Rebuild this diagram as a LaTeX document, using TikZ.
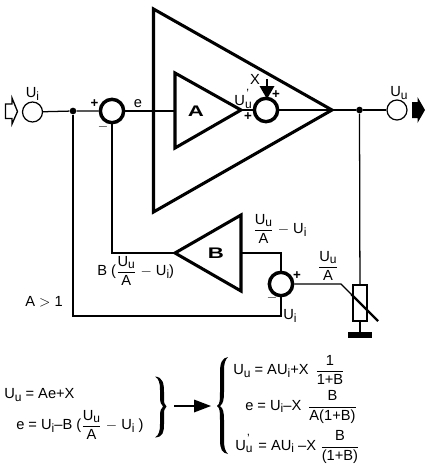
\documentclass[tikz,border=0pt]{standalone}
\usepackage{fontspec}
\setmainfont{Liberation Sans}
\usetikzlibrary{calc}
\newcommand{\Ss}[2]{#1\raisebox{-0.3ex}{\fontsize{9}{9}\selectfont #2}}
\newcommand{\Ui}{\Ss{U}{i}}
\newcommand{\Uu}{\Ss{U}{u}}
\newcommand{\Up}{U\rlap{\raisebox{-0.3ex}{\fontsize{9}{9}\selectfont u}}\raisebox{1.05ex}{\fontsize{9}{9}\selectfont\kern1pt '}\kern3.4pt}
\newcommand{\Frc}[2]{$\displaystyle\frac{\mbox{#1}}{\mbox{#2}}$}
\tikzset{
  x=0.75pt,y=-0.75pt,
  wire/.style={line width=0.95pt,line join=miter},
  heavy/.style={line width=2.3pt,line join=miter,miter limit=6},
  sumc/.style={circle,draw,line width=2.6pt,minimum size=17.5pt,inner sep=0pt,fill=white},
  port/.style={circle,draw,line width=0.9pt,minimum size=15pt,inner sep=0pt,fill=white},
  junc/.style={circle,fill,minimum size=5pt,inner sep=0pt},
  lab/.style={inner sep=0pt,font=\fontsize{11}{12}\selectfont},
  small/.style={inner sep=0pt,font=\fontsize{10}{11}\selectfont\bfseries},
  tri/.style={inner sep=0pt,font=\fontsize{11.5}{12}\selectfont\bfseries,xscale=1.45,transform shape},
}
\begin{document}
\begin{tikzpicture}
\useasboundingbox (0,0) rectangle (431,465);
% coordinates
\coordinate (bigT) at (153.5,9);
\coordinate (bigB) at (153.5,212);
\coordinate (bigA) at (332,110);
\coordinate (aT) at (175,73);
\coordinate (aB) at (175,148);
\coordinate (aA) at (241,110);
\coordinate (bT) at (241,215);
\coordinate (bB) at (241,291);
\coordinate (bA) at (175,253);
\coordinate (bOut) at (241,253);
\coordinate (bCorner) at (281,253);
\coordinate (fbL) at (112,253);
\coordinate (inCorner) at (73,316);
\coordinate (inCornerR) at (281,316);
\coordinate (potIn) at (341,284);
\coordinate (potEnd) at (378,321);
\coordinate (gnd) at (360,335);
\coordinate (xTop) at (267,79);
% wires
\node[port] (in) at (32.5,112) {};
\node[sumc] (s1) at (112,111) {};
\node[sumc] (s2) at (266,110) {};
\node[sumc] (s3) at (281,284) {};
\node[port] (out) at (397,110) {};
\node[junc] (j1) at (73,111) {};
\node[junc] (j2) at (359.5,110) {};
\node[draw,line width=0.95pt,minimum width=10.5pt,minimum height=27pt,inner sep=0pt] (pot) at (360,303) {};
\draw[wire] (in) -- (j1) -- (s1);
\draw[wire] (s1) -- (aT |- s1);
\draw[wire] (aA) -- (s2);
\draw[wire] (s2) -- (bigA) -- (j2) -- (out);
\draw[wire] (j1) -- (inCorner) -- (inCornerR) -- (s3);
\draw[wire] (s1) -- (fbL) -- (bA);
\draw[wire] (bOut) -- (bCorner) -- (s3);
\draw[wire] (s3) -- (potIn) -- (potEnd);
\draw[line width=1.6pt] ($(potIn)!0.28!(potEnd)$) -- (potEnd);
\draw[wire] (j2) -- (pot);
\draw[wire] (pot) -- (gnd);
\draw[line width=4pt] (348,335) -- (372,335);
% triangles
\draw[heavy] (bigT) -- (bigA) -- (bigB) -- cycle;
\draw[heavy] (aT) -- (aA) -- (aB) -- cycle;
\draw[heavy] (bT) -- (bA) -- (bB) -- cycle;
% X arrow
\draw[wire] (xTop) -- (267,88);
\fill (259.5,86) -- (274.5,86) -- (267,99) -- cycle;
% port arrows
\draw[line width=1pt,line join=miter] (5.5,104) -- (12,104) -- (12,98) -- (17.5,111.5) -- (12,124) -- (12,118.5) -- (5.5,118.5) -- cycle;
\fill (412,102) -- (417.5,102) -- (417.5,97) -- (425,110) -- (417.5,123) -- (417.5,118) -- (412,118) -- cycle;
% main labels
\node[lab] (tUi) at (32.5,94) {\Ui};
\node[lab] (tUu) at (399,93) {\Uu};
\node[small] at (94.5,104) {+};
\node[small] at (103,127) {$-$};
\node[lab] at (138,104) {e};
\node[tri] at (196,111.5) {A};
\node[tri] at (216,253.5) {B};
\node[lab] at (255,79) {X};
\node[small] at (276,95) {+};
\node[small] at (248,117) {+};
\node[lab] at (244,99) {\Up};
\node[small] at (297,276) {+};
\node[small] at (272,298) {$-$};
\node[lab] at (290,316) {\Ui};
\node[lab,anchor=west] at (253,229) {\Frc{\Uu}{A} $-$ \Ui};
\node[lab] at (328,266) {\Frc{\Uu}{A}};
\node[lab,anchor=west] at (97,271) {B (\Frc{\Uu}{A} $-$ \Ui)};
\node[lab] at (44,302) {A $>$ 1};
% equations
\node[lab,anchor=west] at (4,395) {\Uu{} = Ae+X};
\node[lab,anchor=west] at (16,425) {e = \Ui{}--B (\Frc{\Uu}{A} $-$ \Ui{} )};
\node[lab,anchor=west] at (233,370) {\Uu{} = A\Ui{}+X \,\Frc{1}{1+B}};
\node[lab,anchor=west] at (245,407) {e = \Ui{}--X \,\Frc{B}{A(1+B)}};
\node[lab,anchor=west] at (235,447) {\Up{} = A\Ui{} --X \Frc{B}{(1+B)}};
% braces (tapered)
\fill (155,376.5) .. controls (163,377) and (164,384) .. (164,392) -- (164,397) .. controls (164,402) and (164,405) .. (166.5,406.5) .. controls (164,408) and (164,411) .. (164,416) -- (164,424) .. controls (164,432) and (163,437) .. (155,437.5) .. controls (159,435) and (160,431) .. (160,424) -- (160,416) .. controls (160,411) and (161,408) .. (163,406.5) .. controls (161,405) and (160,402) .. (160,397) -- (160,390) .. controls (160,383) and (159,379) .. (155,376.5) -- cycle;
\fill (228,357) .. controls (222,358) and (220,363) .. (220,372) -- (220,392) .. controls (220,400) and (220,404) .. (217,406) .. controls (220,408) and (220,412) .. (220,420) -- (220,440) .. controls (220,449) and (222,453) .. (228,454) .. controls (225,451) and (224,447) .. (224,440) -- (224,420) .. controls (224,412) and (223,408) .. (220,406) .. controls (223,404) and (224,400) .. (224,392) -- (224,370) .. controls (224,364) and (225,360) .. (228,357) -- cycle;
% arrow
\draw[wire] (174,406) -- (196,406);
\fill (194,399.5) -- (211,406) -- (194,412.5) -- cycle;
\end{tikzpicture}
\end{document}
